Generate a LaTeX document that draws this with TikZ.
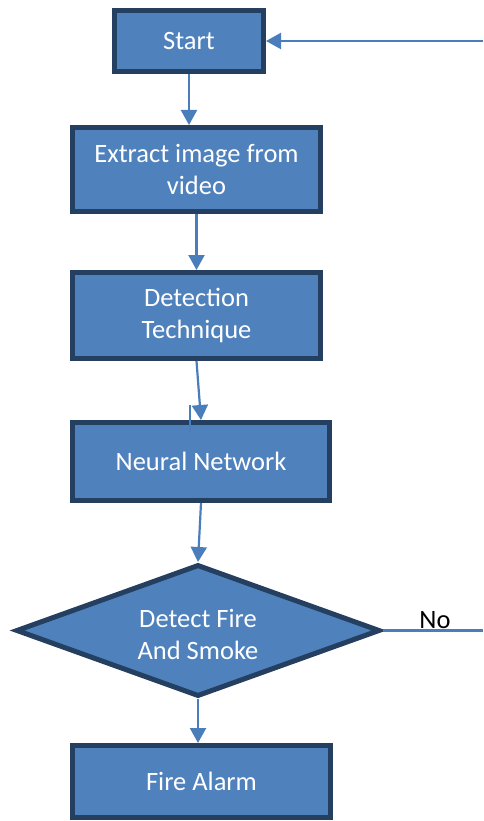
\documentclass[tikz,border=0pt]{standalone}
\usepackage{fontspec}
\setmainfont{Carlito}
\usetikzlibrary{shapes.geometric,arrows.meta}
\definecolor{boxfill}{HTML}{4F81BD}
\definecolor{boxline}{HTML}{243F60}
\definecolor{arrowcol}{HTML}{4A7EBB}
\tikzset{
  stepbox/.style={rectangle, draw=boxline, fill=boxfill, line width=5pt,
    text=white, align=center, inner sep=0pt, font=\fontsize{26.5}{31.5}\selectfont},
  decisionbox/.style={diamond, draw=boxline, fill=boxfill, line width=5pt,
    text=white, align=center, inner sep=0pt, font=\fontsize{26.5}{31.5}\selectfont},
  flowarrow/.style={draw=arrowcol, line width=2.2pt, -{Triangle[width=16pt,length=15pt]}},
  flowline/.style={draw=arrowcol, line width=2.2pt},
}
\begin{document}
\begin{tikzpicture}[x=1pt,y=-1pt]
\useasboundingbox (0,0) rectangle (483,821);
\node[stepbox, minimum width=149pt, minimum height=61pt] (start) at (189,41) {Start};
\node[stepbox, minimum width=248pt, minimum height=84pt] (extract) at (196.5,169.5) {Extract image from\\video};
\node[stepbox, minimum width=248pt, minimum height=86pt] (detect) at (196.5,315.5) {Detection\\Technique};
\node[stepbox, minimum width=257pt, minimum height=78pt] (neural) at (201,461.5) {Neural Network};
\node[decisionbox, minimum width=364pt, minimum height=132pt] (dec) at (198,630.5) {\smash{\makebox[0pt]{\raisebox{-13pt}{\begin{tabular}{@{}c@{}}Detect Fire\\And Smoke\end{tabular}}}}};
\node[stepbox, minimum width=258pt, minimum height=72pt] (alarm) at (201.5,781.5) {Fire Alarm};
\coordinate (retin) at (483,41);
\coordinate (noout) at (483,630.5);
\coordinate (strayA) at (190,405);
\coordinate (strayB) at (190,432);
\draw[flowarrow] (start.south) -- (start.south |- extract.north);
\draw[flowarrow] (extract.south) -- (extract.south |- detect.north);
\draw[flowarrow] (detect.south) -- (neural.north);
\draw[flowarrow] (neural.south) -- (dec.north);
\draw[flowarrow] (dec.south) -- (dec.south |- alarm.north);
\draw[flowline] (dec.east) -- (noout);
\node[anchor=base, font=\fontsize{26.5}{31.5}\selectfont, inner sep=0pt] (nolabel) at (435,628) {No};
\draw[flowarrow] (retin) -- (start.east);
\draw[flowline] (strayA) -- (strayB);
\end{tikzpicture}
\end{document}
